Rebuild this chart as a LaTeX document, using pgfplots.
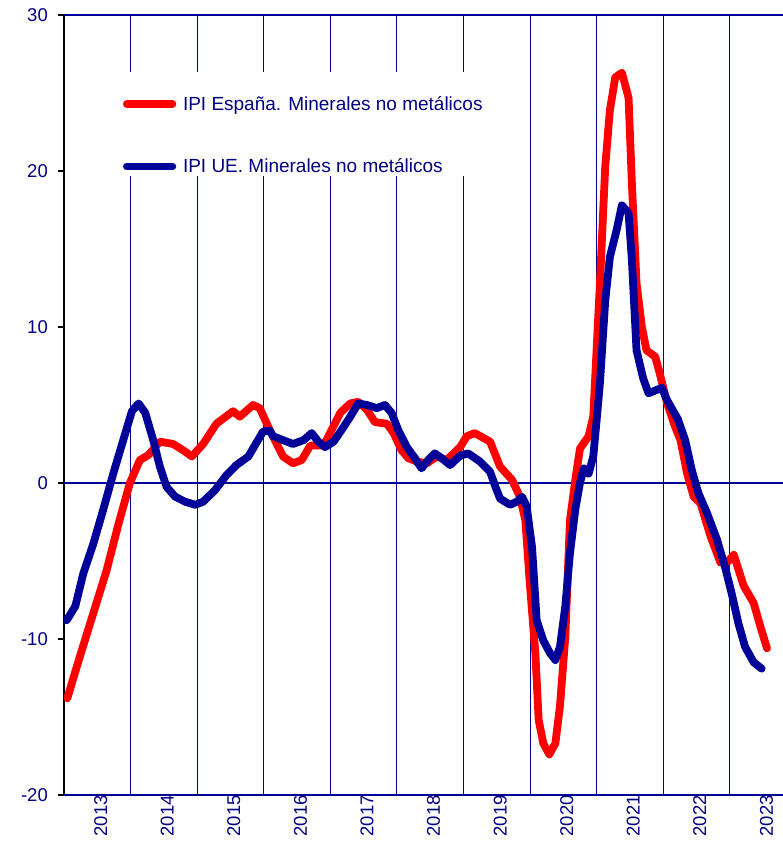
\documentclass[border=0pt]{standalone}
\usepackage{fontspec}
\setmainfont{Liberation Sans}
\usepackage{pgfplots}
\pgfplotsset{compat=1.18}
\definecolor{navy}{RGB}{0,0,153}
\definecolor{txt}{RGB}{0,0,128}
\definecolor{redline}{RGB}{255,0,0}
% x = years elapsed since January 2013
\begin{document}
\begin{tikzpicture}
\begin{axis}[
  at={(0,0)}, anchor=south west,
  scale only axis, width=719pt, height=780pt,
  xmin=0, xmax=10.8, ymin=-20, ymax=30,
  separate axis lines,
  axis y line*=left, axis x line*=box,
  y axis line style={black, line width=2.4pt, -},
  x axis line style={navy, line width=2.2pt, -},
  ytick={-20,-10,0,10,20,30}, yticklabels={-20,-10,0,10,20,30},
  ytick style={black, line width=1.6pt},
  ytick align=outside, major tick length=6pt,
  xtick={0.5,1.5,2.5,3.5,4.5,5.5,6.5,7.5,8.5,9.5,10.5},
  xticklabels={2013,2014,2015,2016,2017,2018,2019,2020,2021,2022,2023},
  xtick style={draw=none},
  xticklabel style={rotate=90, anchor=east, inner sep=0pt, yshift=-3.4pt},
  yticklabel style={inner sep=0pt, xshift=-10pt},
  tick label style={font=\fontsize{18.5}{22}\selectfont, text=txt},
  legend style={at={(0.0765,0.896)}, anchor=north west, fill=none, draw=none,
    inner sep=0pt, row sep=47pt, column sep=3pt,
    nodes={inner sep=0pt, text=txt},
    font=\fontsize{19}{23}\selectfont},
  legend cell align=left,
  legend image code/.code={\path (0pt,0pt) (53pt,0pt);
    \draw[#1, line cap=round] (3.75pt,0pt) -- (49.25pt,0pt);},
  every axis plot/.append style={line width=7.8pt, line join=round, line cap=round},
]
\pgfplotsinvokeforeach{1,2,3,4,5,6,7,8,9,10}{
  \draw[navy, line width=0.9pt] (axis cs:#1,-20) -- (axis cs:#1,30);
}
\fill[white] (axis cs:0.55,18.3) rectangle (axis cs:6.5,26.35);
\draw[navy, line width=2.4pt] (axis cs:0,0) -- (axis cs:10.8,0);
\pgfplotsinvokeforeach{1,2,3,4,5,6,7,8,9,10}{
  \draw[navy, line width=1pt] (axis cs:#1,0) -- ++(0,-5pt);
}
\addplot[redline] coordinates {
(0.05,-13.8) (0.24,-11.1) (0.44,-8.35) (0.64,-5.6) (0.82,-2.6)
(0.99,0.0) (1.14,1.47) (1.27,1.8) (1.44,2.65) (1.64,2.5)
(1.79,2.1) (1.92,1.7) (2.09,2.5) (2.29,3.8) (2.54,4.6)
(2.64,4.25) (2.84,5.0) (2.94,4.8) (3.09,3.4) (3.29,1.7)
(3.44,1.26) (3.57,1.47) (3.70,2.4) (3.90,2.4) (4.02,3.4)
(4.15,4.5) (4.30,5.1) (4.42,5.2) (4.55,4.7) (4.67,3.9)
(4.85,3.8) (4.95,3.2) (5.07,2.1) (5.17,1.6) (5.30,1.37)
(5.45,1.26) (5.60,1.7) (5.75,1.47) (5.95,2.3) (6.05,3.0)
(6.17,3.2) (6.40,2.65) (6.55,1.05) (6.73,0.2) (6.85,-0.9)
(6.93,-2.4) (7.00,-6.6) (7.08,-10.9) (7.13,-15.2) (7.20,-16.7)
(7.29,-17.4) (7.38,-16.7) (7.45,-14.3) (7.53,-9.85) (7.60,-2.4)
(7.68,0.2) (7.75,2.2) (7.88,3.0) (7.95,4.25) (8.05,12.8)
(8.13,20.3) (8.20,23.9) (8.28,26.0) (8.38,26.3) (8.48,24.7)
(8.53,19.2) (8.60,12.8) (8.68,10.0) (8.75,8.5) (8.88,8.1)
(8.95,7.0) (9.06,5.1) (9.18,3.6) (9.26,2.75) (9.36,0.6)
(9.46,-0.9) (9.56,-1.3) (9.71,-3.4) (9.86,-5.1) (9.96,-5.1)
(10.06,-4.6) (10.21,-6.6) (10.36,-7.7) (10.46,-9.2) (10.56,-10.6)
};
\addlegendentry{IPI España. Minerales no metálicos}
\addplot[navy] coordinates {
(0.04,-8.8) (0.17,-7.9) (0.29,-5.8) (0.44,-3.9) (0.59,-1.7)
(0.74,0.6) (0.89,2.75) (1.02,4.6) (1.12,5.1) (1.22,4.5)
(1.34,2.75) (1.44,1.05) (1.54,-0.24) (1.67,-0.88) (1.82,-1.2)
(1.97,-1.4) (2.09,-1.2) (2.27,-0.45) (2.44,0.5) (2.59,1.15)
(2.77,1.7) (2.90,2.65) (2.99,3.3) (3.09,3.35) (3.14,3.0)
(3.44,2.5) (3.60,2.75) (3.72,3.2) (3.82,2.65) (3.92,2.3)
(4.05,2.65) (4.17,3.4) (4.30,4.25) (4.42,5.1) (4.55,5.0)
(4.70,4.8) (4.82,5.0) (4.92,4.5) (5.02,3.4) (5.15,2.3)
(5.27,1.6) (5.37,0.94) (5.47,1.47) (5.57,1.9) (5.67,1.6)
(5.80,1.15) (5.95,1.75) (6.07,1.9) (6.25,1.37) (6.40,0.72)
(6.48,-0.24) (6.55,-1.0) (6.70,-1.4) (6.80,-1.2) (6.88,-0.88)
(6.95,-1.5) (7.03,-4.1) (7.10,-8.8) (7.20,-10.1) (7.30,-10.9)
(7.38,-11.35) (7.45,-10.5) (7.53,-7.9) (7.60,-4.5) (7.68,-1.7)
(7.75,0.0) (7.81,0.94) (7.88,0.6) (7.95,1.7) (8.00,4.0)
(8.05,6.4) (8.13,11.7) (8.20,14.5) (8.30,16.2) (8.38,17.8)
(8.48,17.3) (8.53,14.3) (8.60,8.5) (8.70,6.7) (8.78,5.75)
(8.98,6.1) (9.06,5.3) (9.22,4.1) (9.33,2.75) (9.43,0.83)
(9.53,-0.66) (9.66,-1.94) (9.81,-3.65) (9.93,-5.4) (10.03,-7.1)
(10.13,-9.0) (10.23,-10.5) (10.36,-11.5) (10.48,-11.9)
};
\addlegendentry{IPI UE. Minerales no metálicos}
\end{axis}
\pgfresetboundingbox
\path (-64pt,-61pt) rectangle (719pt,795pt);
\end{tikzpicture}
\end{document}
